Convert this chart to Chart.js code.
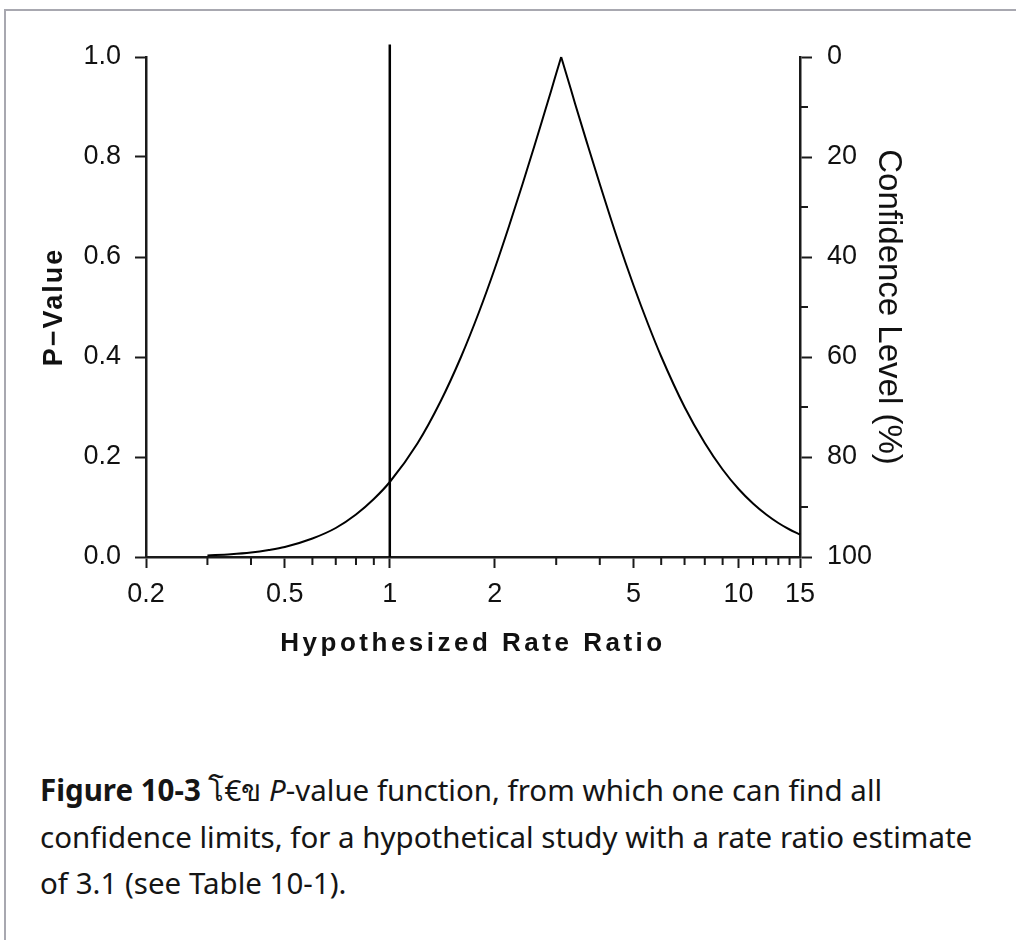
<!DOCTYPE html>
<html>
<head>
<meta charset="utf-8">
<title>P-value function</title>
<script src="https://cdn.jsdelivr.net/npm/chart.js@4.4.1/dist/chart.umd.min.js"></script>
<style>
    body {
        margin: 0;
        background: #fff;
        width: 1016px;
        height: 940px;
        overflow: hidden;
        position: relative;
    }
    #frame {
        position: absolute;
        left: 4px;
        top: 9px;
        right: -10px;
        bottom: -10px;
        border-top: 2px solid #a8a8b0;
        border-left: 2px solid #a8a8b0;
    }
    #chart-box {
        position: absolute;
        left: 0;
        top: 0;
        width: 1016px;
        height: 700px;
    }
    #caption {
        position: absolute;
        left: 40px;
        top: 767px;
        width: 970px;
        font-family: "Noto Sans", sans-serif;
        font-size: 29.5px;
        line-height: 46.5px;
        color: #151515;
        white-space: nowrap;
    }
</style>
</head>
<body>
<div id="frame"></div>
<div id="chart-box"><canvas id="myChart" width="1016" height="700"></canvas></div>
<div id="caption">
    <b>Figure 10-3</b> โ€ข <i>P</i>-value function, from which one can find all<br>
    confidence limits, for a hypothetical study with a rate ratio estimate<br>
    of 3.1 (see Table 10-1).
</div>

<script>
// hypothesized rate ratio and p-value
const rateRatios = [0.3, 0.35, 0.4, 0.45, 0.5, 0.6, 0.7, 0.8, 0.9, 1.0,
    1.2, 1.4, 1.6, 1.8, 2.0, 2.2, 2.4, 2.6, 2.8, 2.9,
    3.0, 3.1, 3.2, 3.3, 3.4, 3.7, 4.0, 4.5, 5.0, 5.5,
    6, 7, 8, 9, 10, 11, 12, 13, 14, 15];
const pValues = [0.003, 0.0055, 0.009, 0.014, 0.020, 0.037, 0.058, 0.085, 0.116, 0.150,
    0.227, 0.312, 0.400, 0.489, 0.577, 0.663, 0.745, 0.823, 0.897, 0.932,
    0.967, 1.0, 0.968, 0.937, 0.906, 0.822, 0.746, 0.635, 0.543, 0.466,
    0.401, 0.300, 0.228, 0.175, 0.136, 0.107, 0.085, 0.068, 0.055, 0.045];
const peakIndex = 21; // rate ratio estimate 3.1

// null value line at rate ratio 1
const nullLineX = [1, 1];
const nullLineY = [0, 1.025];

// axis ticks
const xMajorTicks = [0.2, 0.5, 1, 2, 5, 10, 15];
const xMinorTicks = [0.3, 0.4, 0.6, 0.7, 0.8, 0.9, 3, 4, 6, 7, 8, 9, 11, 12, 13, 14];
const pTicks = [0, 0.2, 0.4, 0.6, 0.8, 1.0];
const confTicks = [0, 20, 40, 60, 80, 100];
const confMinorTicks = [10, 30, 50, 70, 90];

const axisColor = '#1a1a1a';
const tickFont = { family: '"Liberation Sans", Arial, sans-serif', size: 27 };
const titleSpacing = { x: '3.5px', y: '2px' };

// Chart.js has no letter spacing option for axis titles, so wrap drawTitle
const spacedTitles = {
    id: 'spacedTitles',
    beforeDraw(chart) {
        Object.values(chart.scales).forEach((scale) => {
            if (!titleSpacing[scale.id] || scale._spaced) return;
            const drawTitle = scale.drawTitle;
            scale.drawTitle = function () {
                this.ctx.save();
                this.ctx.letterSpacing = titleSpacing[this.id];
                drawTitle.call(this);
                this.ctx.restore();
            };
            scale._spaced = true;
        });
    }
};

// shorter unlabeled ticks
const minorTicks = {
    id: 'minorTicks',
    afterDraw(chart) {
        const { ctx } = chart;
        const x = chart.scales.x;
        const y2 = chart.scales.y2;
        ctx.save();
        ctx.strokeStyle = axisColor;
        ctx.lineWidth = 2;
        ctx.beginPath();
        xMinorTicks.forEach((v) => {
            const px = x.getPixelForValue(v);
            ctx.moveTo(px, x.top);
            ctx.lineTo(px, x.top + 8);
        });
        confMinorTicks.forEach((v) => {
            const py = y2.getPixelForValue(v);
            ctx.moveTo(y2.left, py);
            ctx.lineTo(y2.left + 8, py);
        });
        ctx.stroke();
        ctx.restore();
    }
};

function toPoints(xs, ys) {
    return xs.map((x, i) => ({ x: x, y: ys[i] }));
}

function curveDataset(label, points) {
    return {
        label: label,
        data: points,
        borderColor: '#000',
        borderWidth: 2,
        pointRadius: 0,
        cubicInterpolationMode: 'monotone',
        fill: false,
        clip: false
    };
}

window.onload = () => {
    const curve = toPoints(rateRatios, pValues);
    const chartContext = document.getElementById('myChart').getContext('2d');
    const chartConfig = {
        type: 'line',
        data: {
            datasets: [
                // two branches so the peak stays a sharp point
                curveDataset('P-value (below estimate)', curve.slice(0, peakIndex + 1)),
                curveDataset('P-value (above estimate)', curve.slice(peakIndex)),
                {
                    label: 'Null value',
                    data: toPoints(nullLineX, nullLineY),
                    borderColor: '#000',
                    borderWidth: 2.5,
                    pointRadius: 0,
                    fill: false,
                    clip: false
                }
            ]
        },
        options: {
            responsive: false,
            animation: false,
            events: [],
            layout: { padding: { top: 57, left: 0, right: 0, bottom: 0 } },
            plugins: {
                legend: { display: false },
                tooltip: { enabled: false }
            },
            scales: {
                x: {
                    type: 'logarithmic',
                    position: 'bottom',
                    min: 0.2,
                    max: 15,
                    afterBuildTicks: (scale) => {
                        scale.ticks = xMajorTicks.map((v) => ({ value: v }));
                    },
                    afterFit: (scale) => { scale.height = 143; },
                    ticks: {
                        autoSkip: false,
                        maxRotation: 0,
                        padding: 10,
                        color: '#111',
                        font: tickFont,
                        callback: (value) => String(value)
                    },
                    grid: {
                        drawOnChartArea: false,
                        drawTicks: true,
                        tickLength: 11,
                        tickColor: axisColor,
                        tickWidth: 2
                    },
                    border: { display: true, color: axisColor, width: 2.5 },
                    title: {
                        display: true,
                        text: 'Hypothesized Rate Ratio',
                        color: '#111',
                        font: { family: '"Liberation Sans", Arial, sans-serif', size: 26, weight: 'bold' },
                        padding: { top: 0, bottom: 41 }
                    }
                },
                y: {
                    type: 'linear',
                    position: 'left',
                    min: 0,
                    max: 1,
                    afterBuildTicks: (scale) => {
                        scale.ticks = pTicks.map((v) => ({ value: v }));
                    },
                    afterFit: (scale) => { scale.width = 146; },
                    ticks: {
                        padding: 14,
                        color: '#111',
                        font: tickFont,
                        callback: (value) => value.toFixed(1)
                    },
                    grid: {
                        drawOnChartArea: false,
                        drawTicks: true,
                        tickLength: 11,
                        tickColor: axisColor,
                        tickWidth: 2
                    },
                    border: { display: true, color: axisColor, width: 2.5 },
                    title: {
                        display: true,
                        text: 'P\u2212Value',
                        color: '#111',
                        font: { family: '"Liberation Sans", Arial, sans-serif', size: 27, weight: 'bold' },
                        padding: { top: 38, bottom: 0 }
                    }
                },
                y2: {
                    type: 'linear',
                    position: 'right',
                    min: 0,
                    max: 100,
                    reverse: true,
                    afterBuildTicks: (scale) => {
                        scale.ticks = confTicks.map((v) => ({ value: v }));
                    },
                    afterFit: (scale) => { scale.width = 216; },
                    ticks: {
                        padding: 15,
                        color: '#111',
                        font: tickFont,
                        callback: (value) => String(value)
                    },
                    grid: {
                        drawOnChartArea: false,
                        drawTicks: true,
                        tickLength: 12,
                        tickColor: axisColor,
                        tickWidth: 2
                    },
                    border: { display: true, color: axisColor, width: 2.5 },
                    title: {
                        display: true,
                        text: 'Confidence Level (%)',
                        color: '#111',
                        font: { family: '"Liberation Sans", Arial, sans-serif', size: 33 },
                        padding: { top: 108, bottom: 0 }
                    }
                }
            }
        },
        plugins: [spacedTitles, minorTicks]
    };

    const myChart = new Chart(chartContext, chartConfig);
};
</script>
</body>
</html>
